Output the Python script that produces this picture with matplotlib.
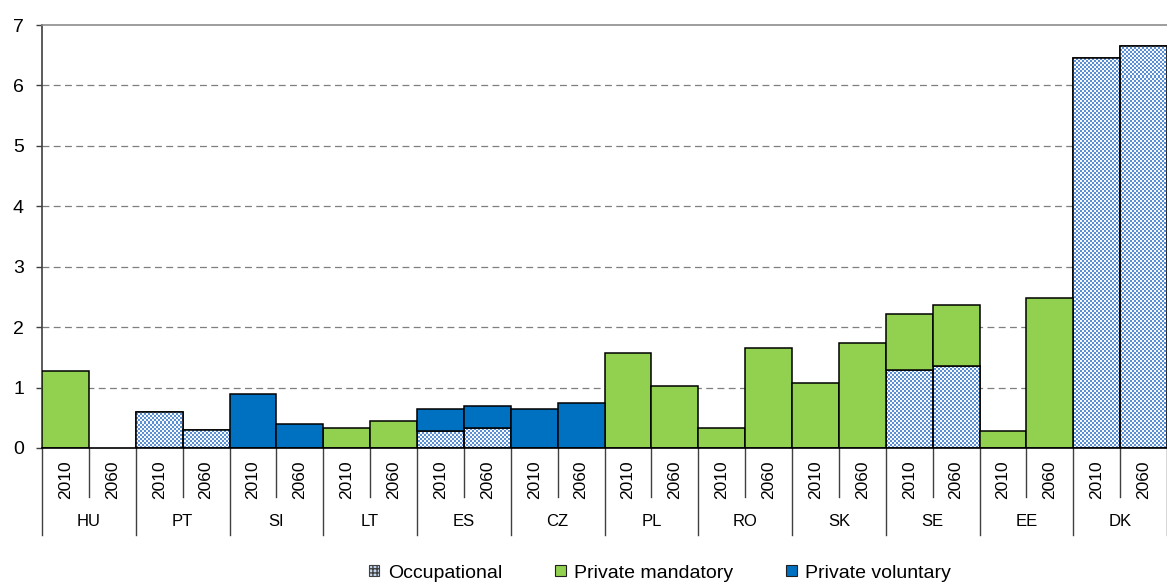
import numpy as np
import matplotlib
matplotlib.use("Agg")
import matplotlib.pyplot as plt
from matplotlib.patches import Patch
from matplotlib.lines import Line2D
import matplotlib.transforms as mtransforms

countries = ['HU', 'PT', 'SI', 'LT', 'ES', 'CZ', 'PL', 'RO', 'SK', 'SE', 'EE', 'DK']
years = ['2010', '2060']
occupational = [0, 0, 0.60, 0.29, 0, 0, 0, 0, 0.28, 0.33, 0, 0,
                0, 0, 0, 0, 0, 0, 1.29, 1.35, 0, 0, 6.45, 6.66]
private_mandatory = [1.27, 0, 0, 0, 0, 0, 0.33, 0.44, 0, 0, 0, 0,
                     1.57, 1.03, 0.33, 1.66, 1.08, 1.74, 0.92, 1.02, 0.28, 2.49, 0, 0]
private_voluntary = [0, 0, 0, 0, 0.89, 0.39, 0, 0, 0.37, 0.37, 0.65, 0.75,
                     0, 0, 0, 0, 0, 0, 0, 0, 0, 0, 0, 0]
series_names = ['Occupational', 'Private mandatory', 'Private voluntary']
yticks = [0, 1, 2, 3, 4, 5, 6, 7]

GREEN = '#92D050'
BLUE = '#0070C0'
CHECK_BLUE = '#5B8FD4'

plt.rcParams['font.family'] = ['Liberation Sans', 'DejaVu Sans']

W, H = 1167, 583
fig = plt.figure(figsize=(W / 100, H / 100), dpi=100)
ax_l, ax_b = 42 / W, 135 / H
ax_w, ax_h = (W - 42) / W, 423 / H
ax = fig.add_axes([ax_l, ax_b, ax_w, ax_h])

n = len(occupational)
x = np.arange(n)
occ = np.array(occupational)
pm = np.array(private_mandatory)
pv = np.array(private_voluntary)

ax.set_xlim(-0.5, n - 0.5)
ax.set_ylim(0, 7)

# gridlines
for t in yticks[1:-1]:
    ax.axhline(t, color='#7f7f7f', lw=0.9, linestyle=(0, (5.5, 3.5)), zorder=0)

# checkerboard texture image (pixel aligned)
cell = 2
px_w, px_h = W - 42, 423
nx, ny = px_w // cell + 1, px_h // cell + 1
chk = (np.add.outer(np.arange(ny), np.arange(nx)) % 2).astype(float)
rgb_blue = np.array(matplotlib.colors.to_rgb(CHECK_BLUE))
rgb_white = np.array([0.97, 0.98, 1.0])
img = np.where(chk[..., None] > 0, rgb_blue, rgb_white)
x_ext = (n) * nx * cell / px_w
y_ext = 7 * ny * cell / px_h

lw = 1.1
occ_bars = ax.bar(x, occ, width=1.0, color='white', edgecolor='black', linewidth=lw, zorder=2)
for b, v in zip(occ_bars, occ):
    if v <= 0:
        b.set_visible(False)
        continue
    im = ax.imshow(img, extent=(-0.5, -0.5 + x_ext, 0, y_ext), origin='lower',
                   interpolation='nearest', aspect='auto', zorder=2.5)
    im.set_clip_path(b)
    ax.bar(b.get_x() + 0.5, v, width=1.0, fill=False, edgecolor='black', linewidth=lw, zorder=3)

pm_bars = ax.bar(x, pm, width=1.0, bottom=occ, color=GREEN, edgecolor='black', linewidth=lw, zorder=3)
for b, v in zip(pm_bars, pm):
    if v <= 0:
        b.set_visible(False)
pv_bars = ax.bar(x, pv, width=1.0, bottom=occ + pm, color=BLUE, edgecolor='black', linewidth=lw, zorder=3)
for b, v in zip(pv_bars, pv):
    if v <= 0:
        b.set_visible(False)

ax.set_xlim(-0.5, n - 0.5)
ax.set_ylim(0, 7)

# axes styling
ax.spines['right'].set_visible(False)
ax.spines['top'].set_color('#8c8c8c')
ax.spines['top'].set_linewidth(1.2)
ax.spines['left'].set_color('#404040')
ax.spines['left'].set_linewidth(1.2)
ax.spines['bottom'].set_color('black')
ax.spines['bottom'].set_linewidth(1.2)
ax.spines['bottom'].set_zorder(4)
ax.set_yticks(yticks)
ax.set_yticklabels([str(t) for t in yticks], fontsize=14)
ax.tick_params(axis='y', length=4, width=1, color='#404040', pad=9)
ax.set_xticks([])

# category axis below
trans = mtransforms.blended_transform_factory(ax.transData, ax.transAxes)
short = -49 / 423
long_ = -87 / 423
for i in range(n + 1):
    xb = i - 0.5
    yb = long_ if i % 2 == 0 else short
    ax.add_line(Line2D([xb, xb], [0, yb], transform=trans, color='#404040', lw=1.0, clip_on=False))
for i in range(n):
    ax.annotate(years[i % 2], xy=(i, 0), xycoords=trans, xytext=(0, -32 * 0.72),
                textcoords='offset points', rotation=90, ha='center', va='center', fontsize=12.5)
for g, c in enumerate(countries):
    ax.annotate(c, xy=(2 * g + 0.5, 0), xycoords=trans, xytext=(0, -74 * 0.72),
                textcoords='offset points', ha='center', va='center', fontsize=12)

# legend
plt.rcParams['hatch.color'] = CHECK_BLUE
handles = [Patch(facecolor='#c4d7ef', edgecolor='#404040', hatch='++++', linewidth=0.8),
           Patch(facecolor=GREEN, edgecolor='#202020', linewidth=0.8),
           Patch(facecolor=BLUE, edgecolor='#202020', linewidth=0.8)]
leg = fig.legend(handles, series_names, loc='center', bbox_to_anchor=(0.5655, 1 - 573 / H),
                 ncol=3, frameon=False, fontsize=14, handlelength=0.55, handleheight=0.55,
                 handletextpad=0.45, columnspacing=2.7)

fig.savefig('out.png', dpi=100)
